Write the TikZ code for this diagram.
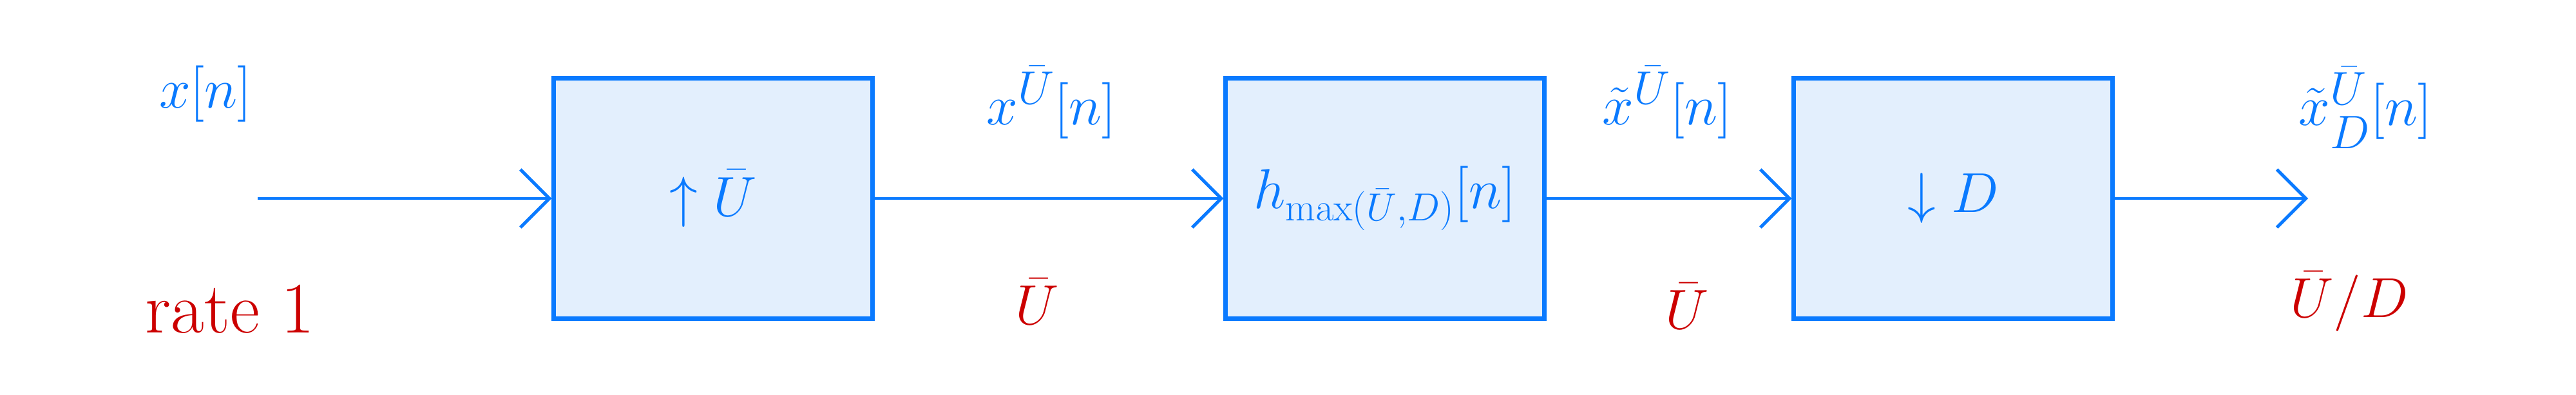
\documentclass[tikz,border=0pt]{standalone}
\usepackage{amsmath}
\usepackage{amssymb}
\usetikzlibrary{arrows.meta}
\usetikzlibrary{calc}

\definecolor{penblue}{HTML}{0A7AFF}
\definecolor{boxfill}{HTML}{E3EFFD}
\definecolor{penred}{HTML}{CC0000}

\begin{document}
\begin{tikzpicture}[
    >={Straight Barb[length=4.5mm,width=9mm]},
    block/.style={draw=penblue, fill=boxfill, line width=1.8pt, minimum width=4.95cm, minimum height=3.73cm, inner sep=1pt, text=penblue, font=\fontsize{34}{40}\selectfont},
    sig/.style={text=penblue, font=\fontsize{32}{38}\selectfont},
    rate/.style={text=penred, font=\fontsize{32}{38}\selectfont},
    wire/.style={draw=penblue, line width=1.4pt}
]
    \useasboundingbox (0,0) rectangle (39.99,6.13);

    \node[block] (up) at (11.07,3.05) {$\uparrow\bar{U}$};
    \node[block, font=\fontsize{26}{32}\selectfont] (filt) at (21.50,3.05) {$h_{\max(\bar{U},D)}[n]$};
    \node[block] (down) at (30.32,3.05) {$\downarrow D$};

    \coordinate (in) at (4.00,3.05);
    \coordinate (out) at (35.83,3.05);

    \draw[wire,->] (in) -- (up);
    \draw[wire,->] (up) -- (filt);
    \draw[wire,->] (filt) -- (down);
    \draw[wire,->] (down) -- (out);

    \node[sig] (xin) at (3.19,4.67) {$x[n]$};
    \node[sig] (xup) at (16.32,4.54) {$x^{\bar{U}}[n]$};
    \node[sig] (xfilt) at (25.88,4.54) {$\tilde{x}^{\bar{U}}[n]$};
    \node[sig] (xout) at (36.72,4.46) {$\tilde{x}^{\bar{U}}_{D}[n]$};

    \node[rate] (rin) at (3.57,1.33) {rate 1};
    \node[rate] (rup) at (16.10,1.45) {$\bar{U}$};
    \node[rate] (rfilt) at (26.19,1.38) {$\bar{U}$};
    \node[rate] (rout) at (36.47,1.45) {$\bar{U}/D$};
\end{tikzpicture}
\end{document}
